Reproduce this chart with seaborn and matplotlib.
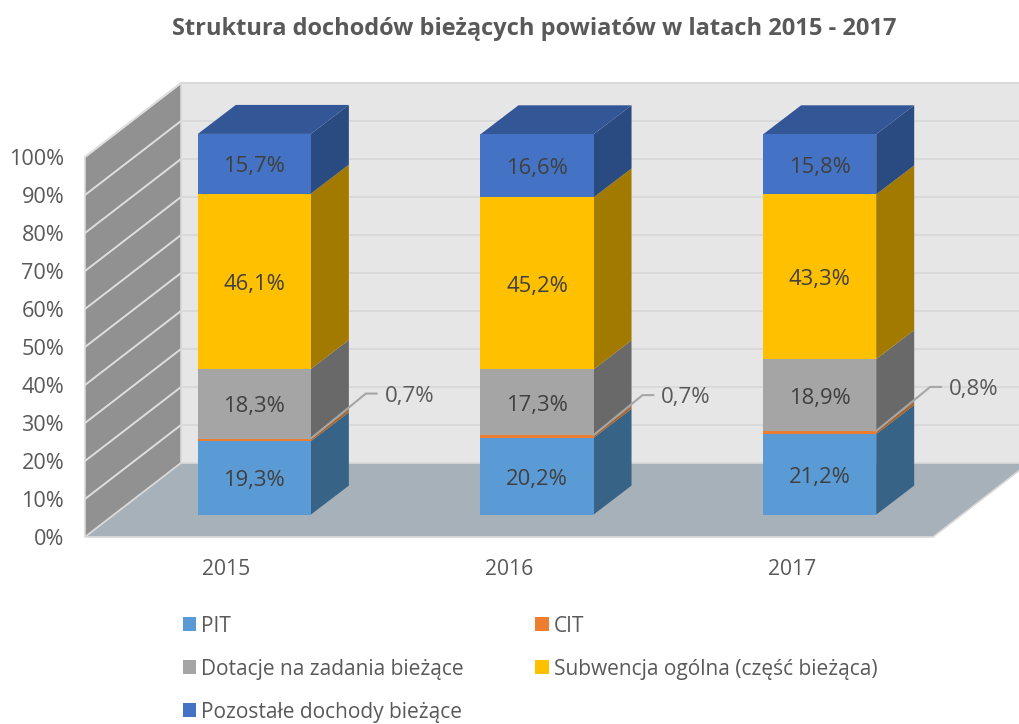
import numpy as np
import pandas as pd
import matplotlib
matplotlib.use("Agg")
import matplotlib.pyplot as plt
from matplotlib.patches import Polygon, Patch
import seaborn as sns

years = ["2015", "2016", "2017"]
series_names = ["PIT", "CIT", "Dotacje na zadania bieżące",
                "Subwencja ogólna (część bieżąca)", "Pozostałe dochody bieżące"]
pit = [19.3, 20.2, 21.2]
cit = [0.7, 0.7, 0.8]
dotacje = [18.3, 17.3, 18.9]
subwencja = [46.1, 45.2, 43.3]
pozostale = [15.7, 16.6, 15.8]
values = [pit, cit, dotacje, subwencja, pozostale]
front_colors = ["#5B9BD5", "#ED7D31", "#A5A5A5", "#FFC000", "#4472C4"]
side_colors = ["#376387", "#B0601F", "#696969", "#A37A00", "#2A4A82"]
top_color = "#335697"
yticks = list(range(0, 101, 10))
leader_rise_px = [45, 40, 44]
leader_reach_px = [66, 60, 65]

sns.set_theme(style="white")
plt.rcParams["font.family"] = ["Open Sans", "DejaVu Sans"]

W, H = 1019, 724
fig = plt.figure(figsize=(W / 100, H / 100), dpi=100, facecolor="white")


def px_axes(x0, y0, x1, y1):
    return fig.add_axes([x0 / W, 1 - y1 / H, (x1 - x0) / W, (y1 - y0) / H])


TXT = "#595959"
front = px_axes(85, 157, 933, 537)
front.set_xlim(-0.5, 2.5)
front.set_ylim(0, 100)
front.patch.set_visible(False)
for s in front.spines.values():
    s.set_visible(False)
front.set_xticks(range(3), years)
front.set_yticks(yticks, [f"{v}%" for v in yticks])
front.tick_params(axis="x", length=0, pad=15.5, labelsize=15.2, labelcolor=TXT)
front.tick_params(axis="y", length=0, pad=15, labelsize=15.6, labelcolor=TXT)

bdx, bdy = 96 / 848 * 3, 74 / 3.8
wall = "#E6E6E6"
front.add_patch(Polygon([(-0.5 + bdx, bdy), (2.5 + bdx, bdy), (2.5 + bdx, 100 + bdy), (-0.5 + bdx, 100 + bdy)],
                        closed=True, fc=wall, ec="#D9D9D9", lw=1.2, clip_on=False, zorder=1))
front.add_patch(Polygon([(-0.5, 0), (-0.5 + bdx, bdy), (-0.5 + bdx, 100 + bdy), (-0.5, 100)],
                        closed=True, fc="#919191", ec="#D9D9D9", lw=1.2, clip_on=False, zorder=1))
front.add_patch(Polygon([(-0.5, 0), (2.5, 0), (2.5 + bdx, bdy), (-0.5 + bdx, bdy)],
                        closed=True, fc="#A7B1B9", ec="#D9D9D9", lw=1.2, clip_on=False, zorder=2))
for v in yticks[1:]:
    front.plot([-0.5, -0.5 + bdx], [v, v + bdy], color="#DEDEDE", lw=1.4, clip_on=False, zorder=1.5)
    front.plot([-0.5 + bdx, 2.5 + bdx], [v + bdy, v + bdy], color="#D9D9D9", lw=1.4, clip_on=False, zorder=1.5)

ax = px_axes(113, 134.3, 961, 514.6)
ax.patch.set_visible(False)
bottoms = np.zeros(3)
series_patches = []
for vals, col, name in zip(values, front_colors, series_names):
    n0 = len(ax.patches)
    sns.barplot(x=years, y=vals, bottom=bottoms, color=col, width=0.4, saturation=1,
                ax=ax, linewidth=0, zorder=3)
    series_patches.append(list(ax.patches[n0:]))
    bottoms = bottoms + np.array(vals)
ax.set_xlim(-0.5, 2.5)
ax.set_ylim(0, 100)
ax.set_xticks([])
ax.set_yticks([])
ax.set_xlabel("")
ax.set_ylabel("")
for s in ax.spines.values():
    s.set_visible(False)

ddx, ddy = 38 / 848 * 3, 29 / 3.803
for patches, col in zip(series_patches, side_colors):
    for p in patches:
        xr = p.get_x() + p.get_width()
        y0, y1 = p.get_y(), p.get_y() + p.get_height()
        ax.add_patch(Polygon([(xr, y0), (xr + ddx, y0 + ddy), (xr + ddx, y1 + ddy), (xr, y1)],
                             closed=True, fc=col, ec="none", clip_on=False, zorder=2))
for p in series_patches[-1]:
    x0, xr = p.get_x(), p.get_x() + p.get_width()
    yt = p.get_y() + p.get_height()
    ax.add_patch(Polygon([(x0, yt), (xr, yt), (xr + ddx, yt + ddy), (x0 + ddx, yt + ddy)],
                         closed=True, fc=top_color, ec="none", clip_on=False, zorder=2))

for k, (patches, vals) in enumerate(zip(series_patches, values)):
    for j, (p, v) in enumerate(zip(patches, vals)):
        label = f"{v:.1f}%".replace(".", ",")
        if k == 1:
            xr = p.get_x() + p.get_width()
            yt = p.get_y() + p.get_height()
            rise = leader_rise_px[j] / 3.803
            reach = leader_reach_px[j] / 282.67
            knee = (leader_reach_px[j] - 11) / 282.67
            ax.plot([xr, xr + knee, xr + reach], [yt, yt + rise, yt + rise],
                    color="#A6A6A6", lw=1.5, clip_on=False, zorder=4)
            ax.annotate(label, xy=(xr + reach, yt + rise), xytext=(5.5, -2),
                        textcoords="offset points", ha="left", va="center",
                        fontsize=16, color=TXT, zorder=5, annotation_clip=False)
        else:
            ax.annotate(label, xy=(p.get_x() + p.get_width() / 2, p.get_y() + p.get_height() / 2),
                        xytext=(0, -2.2), textcoords="offset points",
                        ha="center", va="center", fontsize=15.8, color="#404040", zorder=5)

fig.text(534 / W, 1 - 29 / H, "Struktura dochodów bieżących powiatów w latach 2015 - 2017",
         ha="center", va="center", fontsize=17, fontweight="bold", color=TXT)

legend_order = [0, 2, 4, 1, 3]
handles = [Patch(fc=front_colors[i], ec="none", label=series_names[i]) for i in legend_order]
fig.legend(handles=handles, ncol=2, frameon=False, loc="upper left",
           bbox_to_anchor=(182.5 / W, 1 - 615.5 / H), borderpad=0, borderaxespad=0,
           fontsize=15, labelcolor=TXT, handlelength=0.66, handleheight=0.66,
           handletextpad=0.25, labelspacing=1.06, columnspacing=3.4)

fig.savefig("out.png", dpi=100, facecolor="white")
